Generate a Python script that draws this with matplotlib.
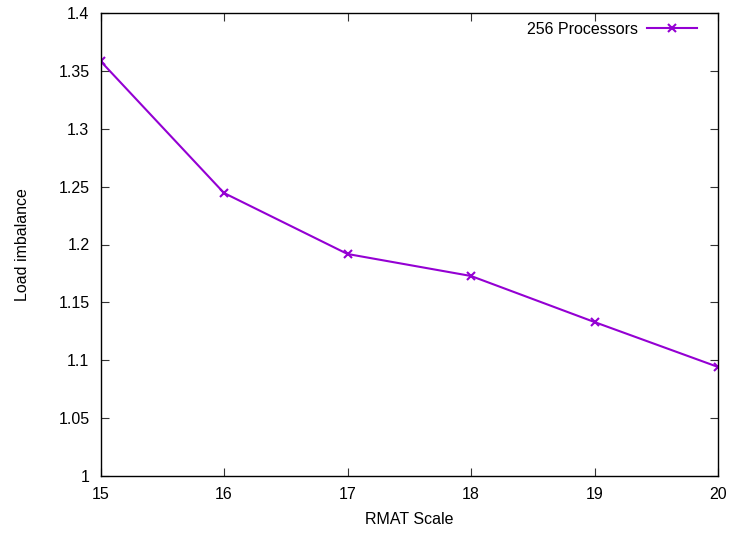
import matplotlib
matplotlib.use("Agg")
import matplotlib.pyplot as plt
from matplotlib.ticker import MultipleLocator

scales = [15, 16, 17, 18, 19, 20]
imbalance = [1.3585, 1.2445, 1.1918, 1.1728, 1.1330, 1.0942]
series_label = "256 Processors"
x_label = "RMAT Scale"
y_label = "Load imbalance"

plt.rcParams['font.family'] = ['Liberation Sans', 'DejaVu Sans']
fs = 11.5
fig = plt.figure(figsize=(7.31, 5.33), dpi=100)
ax = fig.add_axes([100.5/731, (533-476)/533, (718-100.5)/731, (476-13)/533])
ax.plot(scales, imbalance, color='#9400D3', lw=1.5, marker='x', ms=6, mew=1.5, label=series_label)
ax.set_xlim(15, 20)
ax.set_ylim(1.0, 1.4)
ax.xaxis.set_major_locator(MultipleLocator(1))
ax.yaxis.set_major_locator(MultipleLocator(0.05))
ax.yaxis.set_major_formatter(matplotlib.ticker.FuncFormatter(lambda v, p: ('%.2f' % v).rstrip('0').rstrip('.')))
ax.tick_params(direction='in', top=True, right=True, length=6, width=0.8, labelsize=fs, pad=8, color='#333333')
for s in ax.spines.values():
    s.set_linewidth(1.0)
ax.set_xlabel(x_label, fontsize=fs, labelpad=7)
ax.set_ylabel(y_label, fontsize=fs, labelpad=20)
leg = ax.legend(loc='upper right', frameon=False, fontsize=fs, markerfirst=False, handlelength=3.1,
                handletextpad=0.56, bbox_to_anchor=(0.984, 1.005), borderaxespad=0.3)
fig.savefig("out.png", dpi=100)
